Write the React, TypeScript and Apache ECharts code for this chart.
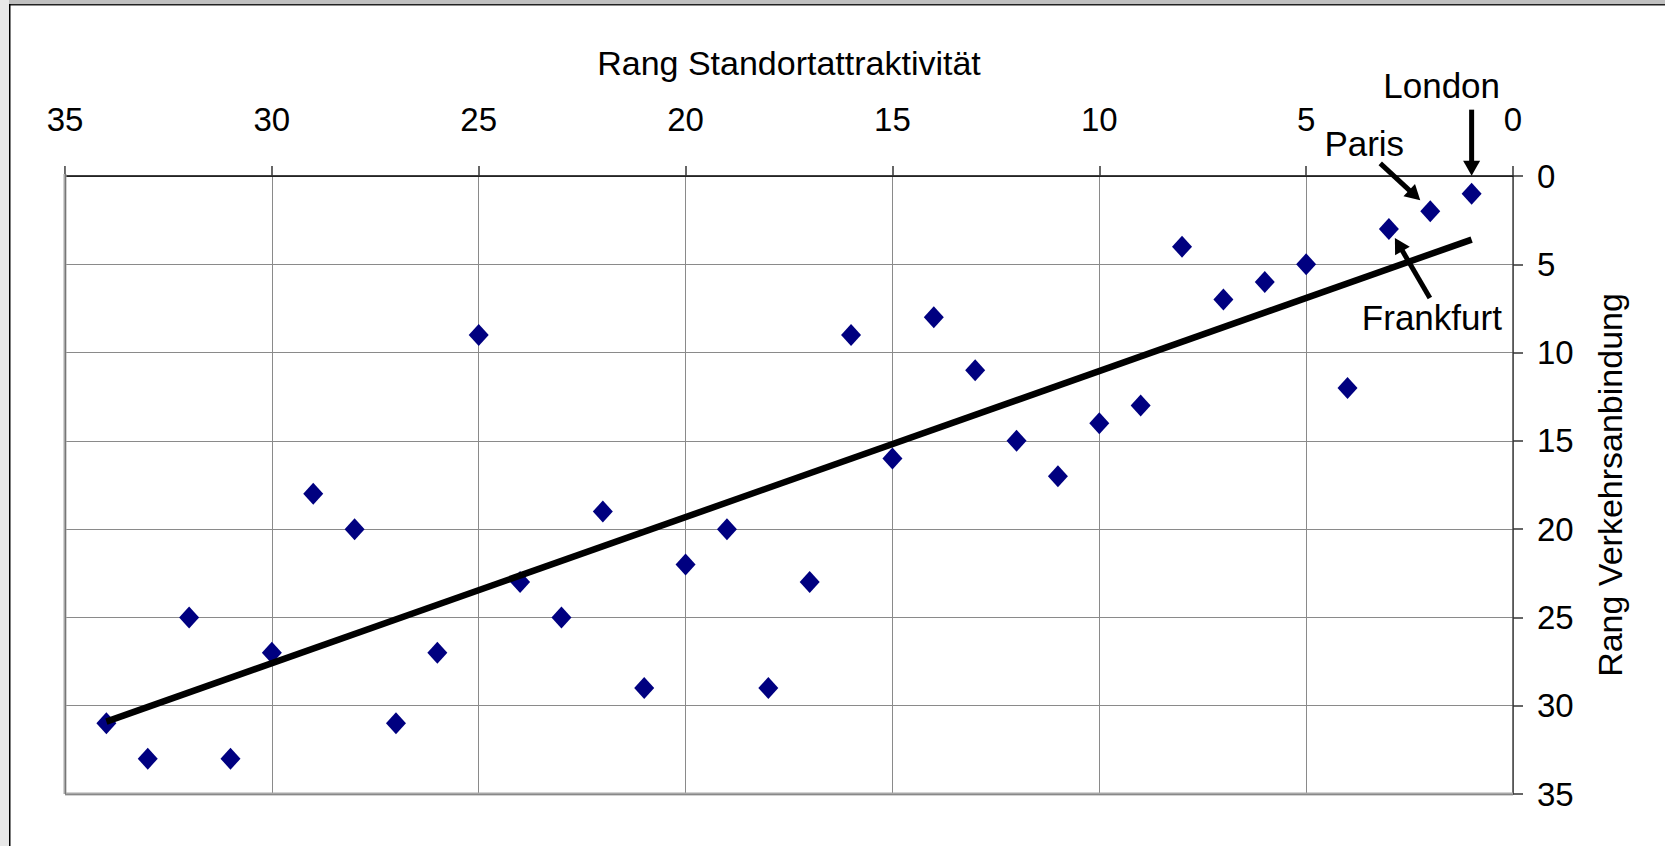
import React, { useEffect, useRef } from "react";
import * as echarts from "echarts";

// Rank of location attractiveness (x) and rank of transport connection (y)
const standortRank = [1, 2, 3, 4, 5, 6, 7, 8, 9, 10, 11, 12, 13, 14, 15, 16, 17, 18, 19, 20, 21, 22, 23, 24, 25, 26, 27, 28, 29, 30, 31, 32, 33, 34];
const verkehrRank = [1, 2, 3, 12, 5, 6, 7, 4, 13, 14, 17, 15, 11, 8, 16, 9, 23, 29, 20, 22, 29, 19, 25, 23, 9, 27, 31, 20, 18, 27, 33, 25, 33, 31];

// Linear trend line end points
const trendX = [1, 34];
const trendY = [3.6, 30.9];

const axisMin = 0;
const axisMax = 35;
const axisStep = 5;

const xAxisName = "Rang Standortattraktivität";
const yAxisName = "Rang Verkehrsanbindung";

const annotationLabels = ["London", "Paris", "Frankfurt"];

const FONT = "'Liberation Sans', Arial, sans-serif";

function arrow(from: number[], to: number[], headLen = 15, headW = 17, width = 5) {
  const dx = to[0] - from[0];
  const dy = to[1] - from[1];
  const len = Math.sqrt(dx * dx + dy * dy);
  const ux = dx / len;
  const uy = dy / len;
  const bx = to[0] - ux * headLen;
  const by = to[1] - uy * headLen;
  const px = -uy;
  const py = ux;
  return [
    {
      type: "line",
      shape: { x1: from[0], y1: from[1], x2: bx + ux * 1, y2: by + uy * 1 },
      style: { stroke: "#000", lineWidth: width },
      z: 20,
    },
    {
      type: "polygon",
      shape: {
        points: [
          [to[0], to[1]],
          [bx + (px * headW) / 2, by + (py * headW) / 2],
          [bx - (px * headW) / 2, by - (py * headW) / 2],
        ],
      },
      style: { fill: "#000" },
      z: 20,
    },
  ];
}

export default function App() {
  const ref = useRef<HTMLDivElement>(null);

  useEffect(() => {
    if (!ref.current) return;
    const chart = echarts.init(ref.current, null, { renderer: "svg" });
    const points = standortRank.map((x, i) => [x, verkehrRank[i]]);
    const trend = trendX.map((x, i) => [x, trendY[i]]);

    chart.setOption({
      animation: false,
      backgroundColor: "#fff",
      textStyle: { fontFamily: FONT },
      grid: { left: 65, top: 176, right: 152, bottom: 52, containLabel: false },
      xAxis: {
        type: "value",
        position: "top",
        inverse: true,
        min: axisMin,
        max: axisMax,
        interval: axisStep,
        name: xAxisName,
        nameLocation: "middle",
        nameGap: 96,
        nameTextStyle: { fontSize: 34, color: "#000", fontFamily: FONT },
        axisLine: { show: true, lineStyle: { color: "#000", width: 1.5 } },
        axisTick: { show: true, inside: false, length: 10, lineStyle: { color: "#333", width: 1.5 } },
        axisLabel: { fontSize: 33, color: "#000", margin: 40, fontFamily: FONT },
        splitLine: { show: true, lineStyle: { color: "#8a8a8a", width: 1 } },
      },
      yAxis: {
        type: "value",
        position: "right",
        inverse: true,
        min: axisMin,
        max: axisMax,
        interval: axisStep,
        name: yAxisName,
        nameLocation: "middle",
        nameRotate: 90,
        nameGap: 80,
        nameTextStyle: { fontSize: 34, color: "#000", fontFamily: FONT },
        axisLine: { show: true, lineStyle: { color: "#444", width: 1.5 } },
        axisTick: { show: true, inside: false, length: 10, lineStyle: { color: "#333", width: 1.5 } },
        axisLabel: { fontSize: 33, color: "#000", margin: 24, fontFamily: FONT },
        splitLine: { show: true, lineStyle: { color: "#8a8a8a", width: 1 } },
      },
      series: [
        {
          type: "scatter",
          data: points,
          symbol: "diamond",
          symbolSize: [20, 22],
          itemStyle: { color: "#000080", opacity: 1 },
          z: 3,
        },
        {
          type: "line",
          data: trend,
          symbol: "none",
          lineStyle: { color: "#000", width: 6.5, cap: "butt", opacity: 1 },
          z: 4,
        },
      ],
    });

    const px = (x: number, y: number) => chart.convertToPixel({ gridIndex: 0 }, [x, y]) as number[];
    const W = 1665;
    const H = 846;
    const bl = px(axisMax, axisMax);
    const tl = px(axisMax, axisMin);
    const br = px(axisMin, axisMax);

    const london = px(standortRank[0], verkehrRank[0]);
    const paris = px(standortRank[1], verkehrRank[1]);
    const frankfurt = px(standortRank[2], verkehrRank[2]);

    const textStyle = (t: string, x: number, y: number) => ({
      type: "text",
      x,
      y,
      style: { text: t, fontSize: 35, fontFamily: FONT, fill: "#000", align: "center", verticalAlign: "middle" },
      z: 20,
    });

    const graphics: any[] = [
      { type: "rect", shape: { x: 0, y: 0, width: W, height: 4 }, style: { fill: "#c0c0c0" }, z: 30 },
      { type: "rect", shape: { x: 0, y: 0, width: 9, height: H }, style: { fill: "#e8e8e8" }, z: 30 },
      { type: "line", shape: { x1: 9, y1: 4.75, x2: W, y2: 4.75 }, style: { stroke: "#222", lineWidth: 1.5 }, z: 31 },
      { type: "line", shape: { x1: 9.75, y1: 4, x2: 9.75, y2: H }, style: { stroke: "#000", lineWidth: 1.5 }, z: 31 },
      // plot area shadow border (left and bottom)
      { type: "line", shape: { x1: tl[0], y1: tl[1] - 2, x2: bl[0], y2: bl[1] }, style: { stroke: "#a8a8a8", lineWidth: 3 }, z: 5 },
      { type: "line", shape: { x1: bl[0], y1: bl[1], x2: br[0], y2: br[1] }, style: { stroke: "#a8a8a8", lineWidth: 3 }, z: 5 },
      { type: "line", shape: { x1: tl[0] + 0.5, y1: tl[1] - 10, x2: bl[0] + 0.5, y2: bl[1] + 1 }, style: { stroke: "#777", lineWidth: 1 }, z: 6 },
      { type: "line", shape: { x1: bl[0], y1: bl[1] + 0.5, x2: br[0], y2: br[1] + 0.5 }, style: { stroke: "#888", lineWidth: 1 }, z: 6 },
      // annotations
      textStyle(annotationLabels[0], london[0] - 30, london[1] - 108),
      ...arrow([london[0], london[1] - 84], [london[0], london[1] - 18]),
      textStyle(annotationLabels[1], paris[0] - 66, paris[1] - 68),
      ...arrow([paris[0] - 50, paris[1] - 48], [paris[0] - 10, paris[1] - 11]),
      textStyle(annotationLabels[2], frankfurt[0] + 43, frankfurt[1] + 89),
      ...arrow([frankfurt[0] + 41, frankfurt[1] + 69], [frankfurt[0] + 6, frankfurt[1] + 9]),
    ];

    chart.setOption({ graphic: graphics });

    return () => chart.dispose();
  }, []);

  return (
    <div
      ref={ref}
      style={{ position: "absolute", left: 0, top: 0, width: 1665, height: 846, background: "#fff" }}
    />
  );
}
